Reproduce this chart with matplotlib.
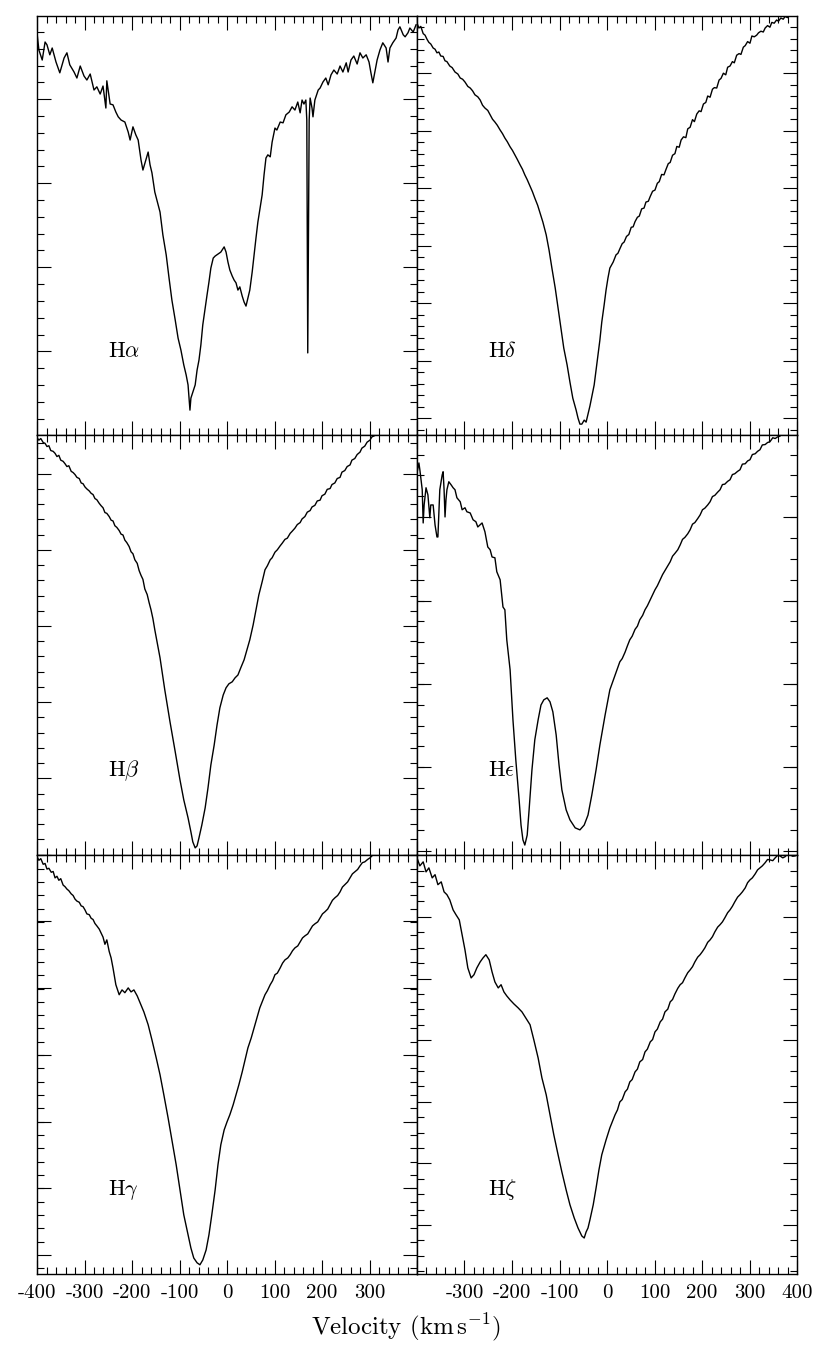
import matplotlib.pyplot as plt
from matplotlib.ticker import MultipleLocator

plt.rcParams['font.family'] = 'serif'
plt.rcParams['font.serif'] = ['cmr10']
plt.rcParams['mathtext.fontset'] = 'cm'
plt.rcParams['axes.unicode_minus'] = False

# (velocity km/s, normalised flux)
ha = [(-400, 1.006), (-396, 0.963), (-389, 0.938), (-383, 0.983), (-379, 0.976), (-373, 0.951),
      (-368, 0.968), (-360, 0.933), (-352, 0.906), (-343, 0.943), (-337, 0.956), (-331, 0.926),
      (-322, 0.908), (-316, 0.893), (-309, 0.923), (-301, 0.898), (-295, 0.888), (-288, 0.903),
      (-280, 0.863), (-274, 0.871), (-267, 0.853), (-261, 0.873), (-255, 0.818), (-253, 0.886),
      (-246, 0.828), (-240, 0.826), (-234, 0.808), (-229, 0.796), (-223, 0.788), (-215, 0.783),
      (-208, 0.758), (-204, 0.738), (-198, 0.771), (-192, 0.751), (-187, 0.738), (-181, 0.688),
      (-177, 0.663), (-171, 0.688), (-166, 0.708), (-162, 0.676), (-158, 0.656), (-152, 0.608),
      (-145, 0.576), (-141, 0.558), (-135, 0.501), (-128, 0.451), (-122, 0.393), (-116, 0.338),
      (-109, 0.288), (-103, 0.243), (-97, 0.213), (-91, 0.176), (-86, 0.151), (-82, 0.126),
      (-80, 0.093), (-78, 0.063), (-76, 0.093), (-72, 0.108), (-67, 0.126), (-63, 0.163),
      (-59, 0.188), (-55, 0.226), (-51, 0.276), (-46, 0.318), (-42, 0.351), (-38, 0.383),
      (-34, 0.418), (-29, 0.443), (-25, 0.448), (-19, 0.453), (-13, 0.458), (-6, 0.471),
      (-2, 0.458), (2, 0.433), (6, 0.413), (11, 0.398), (15, 0.388), (19, 0.381), (23, 0.363),
      (27, 0.371), (32, 0.348), (36, 0.333), (40, 0.323), (44, 0.343), (48, 0.363), (53, 0.408),
      (57, 0.451), (61, 0.493), (65, 0.533), (69, 0.563), (74, 0.601), (78, 0.651), (82, 0.693),
      (86, 0.701), (91, 0.696), (95, 0.733), (101, 0.768), (105, 0.763), (112, 0.783), (118, 0.781),
      (124, 0.801), (131, 0.808), (137, 0.821), (143, 0.813), (149, 0.833), (154, 0.806),
      (158, 0.838), (162, 0.828), (166, 0.838), (168, 0.788), (170, 0.206), (173, 0.788),
      (175, 0.843), (179, 0.818), (181, 0.796), (185, 0.838), (192, 0.863), (196, 0.868),
      (202, 0.883), (208, 0.893), (213, 0.876), (219, 0.901), (225, 0.913), (232, 0.903),
      (238, 0.923), (244, 0.908), (251, 0.931), (255, 0.908), (261, 0.938), (267, 0.948),
      (274, 0.928), (280, 0.956), (286, 0.943), (293, 0.951), (299, 0.933), (303, 0.906),
      (307, 0.881), (312, 0.913), (316, 0.938), (322, 0.963), (328, 0.981), (335, 0.968),
      (339, 0.933), (343, 0.968), (349, 0.981), (356, 0.993), (360, 1.013), (364, 1.021),
      (371, 1.001), (375, 0.996), (381, 1.006), (385, 1.018), (392, 1.008), (398, 1.026)]

hd = [(-400, 1.030), (-396, 1.018), (-392, 1.022), (-387, 1.004), (-383, 1.000), (-379, 0.990),
      (-375, 0.982), (-371, 0.978), (-366, 0.968), (-362, 0.965), (-358, 0.956), (-354, 0.958),
      (-350, 0.948), (-345, 0.947), (-341, 0.936), (-337, 0.934), (-331, 0.923), (-326, 0.919),
      (-320, 0.908), (-314, 0.903), (-309, 0.893), (-304, 0.890), (-299, 0.883), (-293, 0.872),
      (-288, 0.868), (-283, 0.861), (-278, 0.851), (-272, 0.846), (-267, 0.838), (-262, 0.825),
      (-257, 0.818), (-251, 0.812), (-246, 0.801), (-241, 0.790), (-236, 0.783), (-231, 0.775),
      (-225, 0.763), (-220, 0.754), (-215, 0.743), (-210, 0.734), (-204, 0.721), (-199, 0.712),
      (-194, 0.701), (-189, 0.690), (-183, 0.676), (-178, 0.665), (-173, 0.651), (-168, 0.639),
      (-162, 0.623), (-157, 0.609), (-152, 0.593), (-146, 0.575), (-141, 0.556), (-135, 0.533),
      (-128, 0.501), (-122, 0.463), (-116, 0.418), (-109, 0.368), (-103, 0.318), (-97, 0.268),
      (-91, 0.218), (-84, 0.176), (-78, 0.133), (-72, 0.093), (-65, 0.063), (-61, 0.043),
      (-57, 0.028), (-53, 0.028), (-48, 0.038), (-44, 0.033), (-40, 0.053), (-36, 0.073),
      (-32, 0.096), (-27, 0.126), (-23, 0.163), (-19, 0.201), (-15, 0.238), (-11, 0.283),
      (-6, 0.326), (-2, 0.363), (2, 0.393), (6, 0.418), (13, 0.433), (19, 0.451), (23, 0.455),
      (27, 0.466), (32, 0.479), (36, 0.483), (41, 0.497), (46, 0.502), (51, 0.520), (55, 0.521),
      (59, 0.534), (64, 0.545), (68, 0.548), (73, 0.566), (78, 0.568), (82, 0.583), (87, 0.585),
      (91, 0.597), (96, 0.610), (101, 0.613), (106, 0.630), (110, 0.634), (115, 0.652),
      (120, 0.651), (124, 0.664), (129, 0.679), (133, 0.682), (138, 0.700), (143, 0.704),
      (147, 0.722), (152, 0.720), (156, 0.738), (161, 0.746), (166, 0.744), (170, 0.766),
      (175, 0.770), (180, 0.789), (184, 0.784), (189, 0.803), (194, 0.811), (198, 0.809),
      (203, 0.828), (208, 0.832), (212, 0.848), (217, 0.845), (222, 0.865), (226, 0.869),
      (231, 0.868), (236, 0.888), (240, 0.892), (245, 0.905), (250, 0.901), (254, 0.920),
      (259, 0.923), (264, 0.934), (268, 0.931), (273, 0.950), (278, 0.954), (282, 0.952),
      (287, 0.970), (291, 0.974), (296, 0.984), (301, 0.980), (305, 0.998), (310, 0.996),
      (315, 1.000), (319, 1.006), (324, 1.010), (329, 1.008), (333, 1.018), (338, 1.024),
      (343, 1.020), (347, 1.032), (352, 1.030), (357, 1.038), (361, 1.035), (366, 1.043),
      (371, 1.040), (375, 1.047), (380, 1.044), (385, 1.050), (390, 1.047), (396, 1.052)]

hb = [(-400, 1.042), (-396, 1.036), (-392, 1.040), (-387, 1.030), (-383, 1.028), (-379, 1.020),
      (-375, 1.022), (-371, 1.010), (-366, 1.008), (-362, 1.003), (-358, 0.995), (-354, 0.998),
      (-350, 0.986), (-345, 0.983), (-341, 0.977), (-337, 0.970), (-333, 0.972), (-328, 0.958),
      (-324, 0.955), (-320, 0.950), (-316, 0.943), (-311, 0.940), (-307, 0.929), (-303, 0.927),
      (-299, 0.919), (-295, 0.914), (-290, 0.909), (-286, 0.903), (-282, 0.900), (-278, 0.890),
      (-274, 0.887), (-269, 0.878), (-265, 0.872), (-261, 0.867), (-257, 0.855), (-253, 0.853),
      (-248, 0.845), (-244, 0.836), (-240, 0.834), (-236, 0.822), (-232, 0.818), (-227, 0.810),
      (-223, 0.801), (-219, 0.799), (-215, 0.786), (-211, 0.780), (-206, 0.770), (-202, 0.757),
      (-198, 0.752), (-194, 0.737), (-189, 0.728), (-185, 0.710), (-181, 0.698), (-177, 0.688),
      (-173, 0.664), (-168, 0.650), (-164, 0.630), (-160, 0.612), (-156, 0.590), (-152, 0.562),
      (-141, 0.492), (-131, 0.412), (-120, 0.332), (-109, 0.257), (-99, 0.187), (-91, 0.137),
      (-82, 0.092), (-76, 0.057), (-72, 0.032), (-67, 0.017), (-63, 0.022), (-59, 0.042),
      (-53, 0.074), (-46, 0.117), (-40, 0.167), (-34, 0.224), (-27, 0.274), (-21, 0.324),
      (-15, 0.367), (-8, 0.399), (-2, 0.417), (4, 0.427), (11, 0.432), (17, 0.442), (23, 0.449),
      (29, 0.467), (36, 0.487), (42, 0.512), (48, 0.537), (55, 0.574), (61, 0.612), (67, 0.649),
      (74, 0.682), (80, 0.712), (85, 0.722), (91, 0.737), (95, 0.742), (101, 0.756), (106, 0.762),
      (112, 0.772), (116, 0.778), (122, 0.788), (127, 0.791), (133, 0.803), (137, 0.808),
      (143, 0.816), (148, 0.825), (154, 0.830), (158, 0.839), (164, 0.845), (169, 0.856),
      (175, 0.860), (179, 0.869), (185, 0.873), (190, 0.884), (196, 0.886), (200, 0.897),
      (206, 0.901), (211, 0.913), (217, 0.915), (221, 0.925), (227, 0.929), (232, 0.940),
      (238, 0.943), (242, 0.956), (248, 0.960), (253, 0.970), (259, 0.974), (263, 0.986),
      (269, 0.990), (274, 1.000), (280, 1.006), (284, 1.016), (290, 1.021), (295, 1.031),
      (301, 1.036), (305, 1.044), (312, 1.048), (318, 1.054)]

he = [(-400, 0.954), (-396, 0.979), (-394, 0.962), (-389, 0.912), (-387, 0.829), (-385, 0.874),
      (-381, 0.917), (-377, 0.899), (-373, 0.842), (-371, 0.874), (-366, 0.874), (-362, 0.824),
      (-358, 0.794), (-356, 0.794), (-352, 0.912), (-347, 0.949), (-345, 0.957), (-343, 0.912),
      (-341, 0.844), (-339, 0.887), (-337, 0.912), (-333, 0.932), (-328, 0.924), (-324, 0.917),
      (-320, 0.912), (-316, 0.892), (-309, 0.882), (-305, 0.862), (-299, 0.867), (-295, 0.857),
      (-288, 0.854), (-282, 0.837), (-276, 0.832), (-272, 0.819), (-263, 0.829), (-257, 0.807),
      (-251, 0.769), (-246, 0.762), (-242, 0.744), (-236, 0.742), (-232, 0.707), (-225, 0.687),
      (-219, 0.619), (-215, 0.612), (-211, 0.537), (-204, 0.462), (-198, 0.337), (-192, 0.237),
      (-185, 0.137), (-181, 0.074), (-177, 0.037), (-173, 0.024), (-168, 0.049), (-164, 0.112),
      (-158, 0.212), (-152, 0.287), (-145, 0.337), (-139, 0.374), (-133, 0.387), (-126, 0.392),
      (-120, 0.382), (-114, 0.357), (-107, 0.299), (-101, 0.224), (-95, 0.162), (-86, 0.112),
      (-78, 0.087), (-67, 0.067), (-57, 0.062), (-48, 0.074), (-40, 0.099), (-32, 0.149),
      (-23, 0.212), (-15, 0.274), (-4, 0.349), (6, 0.412), (17, 0.449), (27, 0.482), (32, 0.490),
      (38, 0.506), (43, 0.522), (48, 0.537), (53, 0.546), (59, 0.563), (64, 0.571), (69, 0.587),
      (75, 0.598), (80, 0.612), (85, 0.622), (91, 0.637), (96, 0.650), (101, 0.662), (106, 0.672),
      (112, 0.687), (117, 0.700), (122, 0.710), (128, 0.722), (133, 0.732), (138, 0.746),
      (143, 0.753), (149, 0.762), (154, 0.774), (159, 0.788), (164, 0.793), (170, 0.802),
      (175, 0.812), (180, 0.826), (185, 0.830), (191, 0.840), (196, 0.849), (201, 0.862),
      (206, 0.866), (212, 0.874), (217, 0.882), (222, 0.895), (227, 0.898), (233, 0.906),
      (238, 0.912), (243, 0.925), (248, 0.926), (254, 0.933), (259, 0.937), (264, 0.950),
      (269, 0.952), (275, 0.958), (280, 0.962), (285, 0.976), (291, 0.977), (296, 0.984),
      (301, 0.987), (306, 1.000), (312, 1.002), (317, 1.008), (322, 1.012), (327, 1.024),
      (333, 1.025), (338, 1.030), (343, 1.032), (349, 1.042), (354, 1.040), (359, 1.044),
      (364, 1.046)]

hg = [(-400, 1.043), (-396, 1.034), (-392, 1.038), (-387, 1.024), (-383, 1.026), (-379, 1.012),
      (-375, 1.014), (-370, 1.004), (-366, 1.006), (-362, 0.990), (-358, 0.994), (-354, 0.984),
      (-350, 0.988), (-345, 0.972), (-341, 0.968), (-337, 0.962), (-333, 0.958), (-328, 0.950),
      (-324, 0.946), (-320, 0.937), (-316, 0.932), (-311, 0.929), (-307, 0.920), (-303, 0.918),
      (-299, 0.910), (-295, 0.900), (-290, 0.898), (-286, 0.889), (-282, 0.886), (-278, 0.876),
      (-274, 0.870), (-269, 0.862), (-265, 0.852), (-261, 0.842), (-257, 0.824), (-253, 0.835),
      (-248, 0.806), (-244, 0.790), (-240, 0.765), (-234, 0.723), (-227, 0.698), (-221, 0.710),
      (-215, 0.703), (-208, 0.715), (-202, 0.705), (-196, 0.710), (-189, 0.695), (-183, 0.678),
      (-175, 0.655), (-166, 0.623), (-158, 0.585), (-149, 0.540), (-141, 0.498), (-133, 0.448),
      (-124, 0.390), (-116, 0.335), (-107, 0.273), (-99, 0.210), (-91, 0.148), (-82, 0.098),
      (-76, 0.065), (-70, 0.040), (-63, 0.028), (-57, 0.023), (-51, 0.035), (-44, 0.060),
      (-38, 0.098), (-32, 0.148), (-25, 0.210), (-19, 0.273), (-13, 0.323), (-6, 0.360),
      (0, 0.380), (6, 0.398), (13, 0.423), (19, 0.448), (25, 0.473), (32, 0.505), (38, 0.535),
      (44, 0.565), (51, 0.590), (57, 0.615), (63, 0.640), (69, 0.665), (74, 0.680), (80, 0.698),
      (85, 0.708), (91, 0.723), (96, 0.733), (101, 0.748), (106, 0.752), (112, 0.765),
      (117, 0.777), (122, 0.785), (128, 0.790), (133, 0.798), (138, 0.808), (143, 0.815),
      (149, 0.820), (154, 0.830), (159, 0.840), (164, 0.845), (170, 0.850), (175, 0.860),
      (180, 0.870), (185, 0.875), (191, 0.880), (196, 0.890), (201, 0.900), (206, 0.905),
      (212, 0.912), (217, 0.923), (222, 0.934), (227, 0.940), (233, 0.946), (238, 0.955),
      (243, 0.967), (248, 0.973), (254, 0.980), (259, 0.990), (264, 1.000), (269, 1.005),
      (275, 1.011), (280, 1.020), (285, 1.028), (290, 1.030), (296, 1.036), (301, 1.040),
      (306, 1.046), (309, 1.048)]

hz = [(-400, 1.040), (-394, 1.020), (-387, 1.030), (-381, 1.005), (-375, 1.015), (-368, 0.990),
      (-362, 0.998), (-356, 0.973), (-349, 0.980), (-343, 0.955), (-337, 0.948), (-331, 0.935),
      (-324, 0.910), (-318, 0.898), (-311, 0.885), (-305, 0.848), (-299, 0.810), (-293, 0.765),
      (-286, 0.740), (-280, 0.748), (-274, 0.765), (-267, 0.780), (-261, 0.790), (-255, 0.798),
      (-248, 0.785), (-242, 0.755), (-236, 0.730), (-229, 0.715), (-223, 0.723), (-217, 0.705),
      (-211, 0.695), (-204, 0.685), (-196, 0.675), (-187, 0.665), (-179, 0.655), (-171, 0.640),
      (-162, 0.623), (-154, 0.585), (-145, 0.540), (-137, 0.490), (-128, 0.448), (-120, 0.398),
      (-112, 0.348), (-103, 0.298), (-95, 0.255), (-86, 0.210), (-78, 0.173), (-69, 0.140),
      (-61, 0.115), (-53, 0.095), (-48, 0.090), (-44, 0.105), (-40, 0.115), (-36, 0.135),
      (-29, 0.173), (-23, 0.215), (-17, 0.260), (-11, 0.298), (-2, 0.335), (6, 0.365),
      (17, 0.398), (22, 0.410), (27, 0.430), (32, 0.436), (38, 0.455), (43, 0.462), (48, 0.480),
      (53, 0.486), (59, 0.505), (64, 0.512), (69, 0.530), (75, 0.536), (80, 0.555), (85, 0.562),
      (91, 0.580), (96, 0.586), (101, 0.605), (106, 0.612), (112, 0.630), (117, 0.637),
      (122, 0.655), (128, 0.662), (133, 0.680), (138, 0.686), (143, 0.700), (149, 0.714),
      (154, 0.723), (159, 0.728), (164, 0.740), (170, 0.753), (175, 0.760), (180, 0.768),
      (185, 0.780), (191, 0.792), (196, 0.798), (201, 0.806), (206, 0.815), (212, 0.829),
      (217, 0.835), (222, 0.843), (227, 0.855), (233, 0.867), (238, 0.873), (243, 0.880),
      (248, 0.890), (254, 0.903), (259, 0.910), (264, 0.919), (269, 0.930), (275, 0.942),
      (280, 0.948), (285, 0.955), (291, 0.965), (296, 0.978), (301, 0.985), (306, 0.990),
      (312, 1.000), (317, 1.010), (322, 1.015), (327, 1.020), (333, 1.028), (338, 1.036),
      (343, 1.035), (349, 1.033), (354, 1.040), (359, 1.046), (364, 1.045), (370, 1.040),
      (375, 1.043), (380, 1.050), (385, 1.048), (391, 1.044), (396, 1.045)]

# figure layout: left column Ha, Hb, Hg; right column Hd, He, Hz
profiles = [
    [(ha, r'H$\alpha$'), (hd, r'H$\delta$')],
    [(hb, r'H$\beta$'), (he, r'H$\epsilon$')],
    [(hg, r'H$\gamma$'), (hz, r'H$\zeta$')],
]
# y tick spacing differs between panels: (major step, offset, minor step)
yticks = [
    [(0.21, 0.0, 0.042), (0.1438, 0.0425, 0.02876)],
    [(0.1905, 0.0, 0.0381), (0.2083, 0.01, 0.0521)],
    [(0.1667, 0.0475, 0.0333), (0.154, 0.1225, 0.0385)],
]

fig, axes = plt.subplots(3, 2, figsize=(8.3, 13.56), dpi=100)
fig.subplots_adjust(left=37/830, right=797/830, top=1-16/1356, bottom=1-1274/1356,
                    wspace=0, hspace=0)

xt = [-400, -300, -200, -100, 0, 100, 200, 300, 400]
for r in range(3):
    for c in range(2):
        ax = axes[r, c]
        data, name = profiles[r][c]
        v = [p[0] for p in data]
        f = [p[1] for p in data]
        ax.plot(v, f, color='black', lw=1.0)
        ax.text(-250, 0.21, name, fontsize=16, va='center', ha='left')
        ax.set_xlim(-400, 400)
        ax.set_ylim(0, 1.048)
        ax.xaxis.set_major_locator(MultipleLocator(100))
        ax.xaxis.set_minor_locator(MultipleLocator(20))
        mj, off, mn = yticks[r][c]
        ax.yaxis.set_major_locator(MultipleLocator(mj, offset=off))
        ax.yaxis.set_minor_locator(MultipleLocator(mn, offset=off))
        ax.tick_params(which='both', direction='in', top=True, right=True, width=0.8,
                       labelsize=15, pad=7)
        ax.tick_params(which='major', length=10)
        ax.tick_params(which='minor', length=5)
        ax.set_yticklabels([])
        for s in ax.spines.values():
            s.set_linewidth(1.0)
        if r < 2:
            ax.set_xticklabels([])
        else:
            ax.set_xticks(xt)
            if c == 0:
                ax.set_xticklabels([str(t) for t in xt[:-1]] + [''])
            else:
                ax.set_xticklabels([''] + [str(t) for t in xt[1:]])

fig.text(0.489, 0.021, r'Velocity (km$\,$s$^{-1}$)', fontsize=18, ha='center', va='center')

fig.savefig('out.png', dpi=100)
